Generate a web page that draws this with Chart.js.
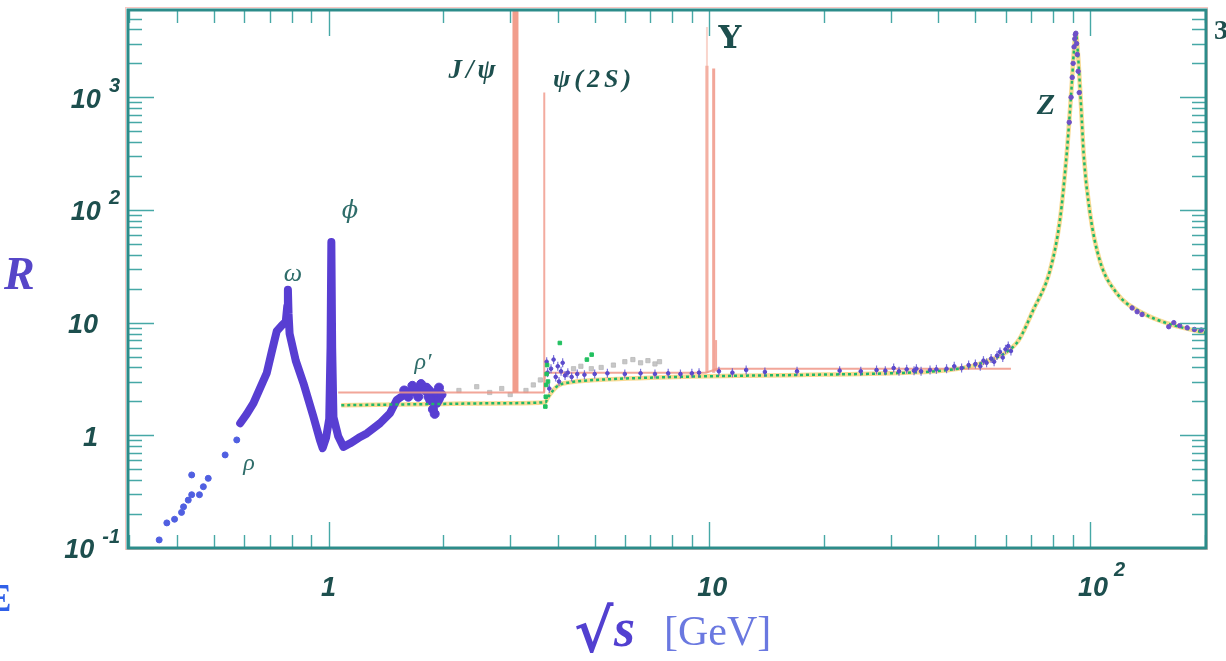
<!DOCTYPE html>
<html><head><meta charset="utf-8">
<script src="https://cdn.jsdelivr.net/npm/chart.js@4.4.0/dist/chart.umd.min.js"></script>
<style>html,body{margin:0;padding:0;background:#fff;overflow:hidden}#wrap{width:1226px;height:661px;position:relative}</style>
</head><body><div id="wrap"><canvas id="c" width="1226" height="661"></canvas></div>
<script>
// ---------------- data ----------------
// axis ranges
const X_MIN = 0.2973, X_MAX = 201.7, Y_MIN = 0.1, Y_MAX = 5950;
// tick labels
const X_TICKS = [1, 10, 100];
const X_TICK_BASE = ['1', '10', '10'];
const X_TICK_EXP = ['', '', '2'];
const Y_TICKS = [0.1, 1, 10, 100, 1000];
const Y_TICK_BASE = ['10', '1', '10', '10', '10'];
const Y_TICK_EXP = ['-1', '', '', '2', '3'];

// low energy sparse points (rho tail)
const lowSparseX = [0.359, 0.376, 0.394, 0.411, 0.416, 0.428, 0.437, 0.437, 0.458, 0.469, 0.483, 0.535, 0.574];
const lowSparseY = [0.118, 0.167, 0.180, 0.207, 0.232, 0.266, 0.297, 0.445, 0.297, 0.350, 0.415, 0.67, 0.91];
// dense low energy band (rho, omega, phi, rho')
const bandX = [0.586, 0.61, 0.635, 0.66, 0.688, 0.71, 0.731, 0.755, 0.772, 0.779, 0.782, 0.785, 0.79, 0.82, 0.859, 0.912, 0.949, 0.965, 0.985, 1.004, 1.012, 1.017, 1.022, 1.03, 1.06, 1.094, 1.14, 1.2, 1.26, 1.365, 1.45, 1.51, 1.6, 1.7, 1.81, 1.87, 1.925, 1.96];
const bandY = [1.28, 1.55, 1.93, 2.6, 3.56, 5.6, 8.4, 9.5, 10.2, 14, 19.6, 12, 8.0, 4.6, 2.9, 1.47, 0.91, 0.77, 0.95, 1.4, 6, 52, 6, 1.45, 0.98, 0.79, 0.85, 0.95, 1.04, 1.28, 1.57, 2.06, 2.36, 2.62, 2.7, 2.4, 1.9, 2.1];
// rho' blob extra points
const blobX = [1.58, 1.62, 1.66, 1.7, 1.72, 1.75, 1.8, 1.83, 1.85, 1.88, 1.9, 1.93, 1.95, 1.98];
const blobY = [2.5, 2.2, 2.75, 2.4, 2.2, 2.85, 2.5, 2.2, 2.05, 1.7, 1.55, 2.4, 2.65, 2.3];

// mid / high energy data points (with error bars)
const midX = [3.74, 3.76, 3.8, 3.84, 3.9, 3.95, 4.0, 4.03, 4.08, 4.12, 4.18, 4.25, 4.35, 4.5, 4.7, 5.0, 5.4, 6.0, 6.6, 7.2, 7.8, 8.4, 9.0, 9.4, 10.6, 11.5, 12.5, 14, 17, 22, 25, 27.5, 29, 30.5, 31.5, 33, 34.5, 35, 36, 38, 39.5, 42, 44, 46, 48, 50, 51.5, 52.5, 53.5, 55, 56, 57, 58, 59, 60, 61, 62];
const midY = [4.5, 3.6, 2.6, 3.9, 4.7, 3.3, 4.1, 3.0, 3.7, 4.4, 3.4, 3.6, 3.3, 3.5, 3.45, 3.5, 3.55, 3.5, 3.55, 3.5, 3.55, 3.5, 3.55, 3.6, 3.7, 3.6, 3.8, 3.65, 3.7, 3.75, 3.7, 3.8, 3.75, 3.95, 3.7, 3.85, 3.75, 3.9, 3.7, 3.8, 3.85, 3.9, 4.1, 3.95, 4.2, 4.3, 4.1, 4.6, 4.4, 4.8, 4.5, 5.1, 5.5, 4.9, 5.8, 6.2, 5.6];
// Z region data points
const zX = [88.2, 89.2, 89.8, 90.3, 90.8, 91.2, 91.5, 91.8, 92.2, 92.6, 93.1, 93.7, 129, 133, 137, 161, 166, 172, 180, 188, 196];
const zY = [600, 1000, 1500, 2000, 2800, 3300, 3600, 3700, 3000, 2400, 1700, 1100, 13.5, 12.5, 11.8, 9.2, 10.0, 9.4, 9.0, 8.7, 8.6];

// other experiments (grey)
const greyX = [2.2, 2.45, 2.65, 2.85, 3.0, 3.3, 3.45, 3.6, 4.4, 4.6, 4.9, 5.2, 5.6, 6.0, 6.3, 6.6, 6.9, 7.2, 7.4];
const greyY = [2.5, 2.7, 2.4, 2.6, 2.3, 2.5, 2.8, 3.1, 3.9, 4.1, 3.9, 4.0, 4.2, 4.5, 4.7, 4.4, 4.6, 4.3, 4.5];
// green points near charm threshold
const greenPtX = [3.71, 3.72, 3.73, 3.74, 3.75, 3.77, 4.05, 4.77, 4.91];
const greenPtY = [1.8, 2.2, 2.8, 3.5, 4.2, 3.0, 6.6, 4.7, 5.2];

// QCD prediction curve (green dotted / yellow)
const qcdX = [1.08, 2.0, 3.0, 3.72, 3.75, 3.85, 4.0, 4.3, 4.7, 5.5, 7, 9, 12, 16, 20, 25, 30, 35, 40, 45, 50, 55, 60, 65, 71, 78.5, 83.4, 86.9, 88.3, 89.5, 90.6, 91.8, 93.0, 94.1, 95.2, 96.2, 100, 106, 117.5, 138, 159, 195, 202];
const qcdY = [1.85, 1.9, 1.93, 1.97, 2.1, 2.4, 2.75, 2.95, 3.05, 3.15, 3.25, 3.32, 3.38, 3.42, 3.46, 3.5, 3.55, 3.62, 3.72, 3.9, 4.2, 4.7, 5.4, 7.0, 13, 29, 82, 320, 650, 1250, 2400, 3700, 2400, 1250, 620, 320, 94, 36, 18.3, 12.1, 9.9, 8.3, 8.1];

// naive quark model (red) and narrow resonances
const redX = [1.06, 3.09, 3.11, 3.68, 3.70, 9.8, 10.5, 62];
const redY = [2.4, 2.4, 2.4, 2.4, 3.6, 3.6, 3.9, 3.9];
const spikeX = [3.097, 3.686, 9.86, 9.86, 10.27, 10.42];
const spikeBase = [2.4, 2.4, 3.6, 3.6, 3.6, 3.7];
const spikeTop = [9000, 1100, 4200, 1900, 1800, 7];

// ---------------- chart ----------------
const pts = (xs, ys) => xs.map((x, i) => ({x: x, y: ys[i]}));
const spikeWidths = [6, 2, 2, 3, 3, 2];
const spikeColors = ['rgba(238,140,120,0.85)', 'rgba(240,150,135,0.8)', 'rgba(245,185,170,0.6)', 'rgba(240,150,135,0.85)', 'rgba(240,150,135,0.85)', 'rgba(240,150,135,0.8)'];
const spikeSets = spikeX.map((sx, i) => ({
  data: [{x: sx, y: spikeBase[i]}, {x: sx, y: spikeTop[i]}],
  showLine: true, pointRadius: 0, borderColor: spikeColors[i], borderWidth: spikeWidths[i], order: 20
}));

const PURPLE = 'rgb(88,62,210)';
const datasets = [
  {data: pts(greenPtX, greenPtY), pointRadius: 2.5, backgroundColor: '#22c060', borderColor: '#22c060', pointStyle: 'rect', order: 1},
  {data: pts(zX, zY), pointRadius: 2.2, backgroundColor: 'rgb(110,80,200)', borderColor: 'rgb(110,80,200)', order: 2},
  {data: pts(midX, midY), pointRadius: 4.5, pointStyle: 'line', rotation: 90, borderWidth: 1.2, borderColor: 'rgba(90,80,210,0.8)', order: 3},
  {data: pts(midX, midY), pointRadius: 1.8, backgroundColor: 'rgb(90,70,200)', borderColor: 'rgb(90,70,200)', order: 3},
  {data: pts(qcdX, qcdY), showLine: true, pointRadius: 0, borderColor: '#1fb86a', borderWidth: 2.5, borderDash: [3, 3], cubicInterpolationMode: 'monotone', order: 4},
  {data: pts(lowSparseX, lowSparseY), pointRadius: 3, backgroundColor: 'rgb(80,95,225)', borderColor: 'rgb(80,95,225)', order: 5},
  {data: pts(blobX, blobY), pointRadius: 4.5, backgroundColor: PURPLE, borderColor: PURPLE, order: 6},
  {data: pts(bandX, bandY), showLine: true, pointRadius: 0, borderColor: PURPLE, borderWidth: 8, borderJoinStyle: 'round', borderCapStyle: 'round', order: 7},
  {data: pts(redX, redY), showLine: true, pointRadius: 0, borderColor: 'rgba(240,150,135,0.85)', borderWidth: 2, order: 5.5},
  {data: pts(qcdX, qcdY), showLine: true, pointRadius: 0, borderColor: 'rgba(245,205,110,0.75)', borderWidth: 4.5, cubicInterpolationMode: 'monotone', order: 9},
  {data: pts(greyX, greyY), pointRadius: 3, pointStyle: 'rect', backgroundColor: 'rgba(185,185,185,0.8)', borderColor: 'rgba(185,185,185,0.8)', order: 10}
].concat(spikeSets);

const TEAL = '#2c8c8a', TEXT = '#1d4f4e';
const deco = {
  id: 'deco',
  beforeDraw(chart) {
    const c = chart.ctx; c.save(); c.fillStyle = '#fff'; c.fillRect(0, 0, chart.width, chart.height); c.restore();
  },
  afterDraw(chart) {
    const c = chart.ctx, a = chart.chartArea, sx = chart.scales.x, sy = chart.scales.y;
    c.save();
    // ticks on all four sides, inward
    c.strokeStyle = '#46a8a6'; c.lineWidth = 1.4;
    for (let k = -1; k <= 2; k++) for (let m = 1; m <= 9; m++) {
      const v = m * Math.pow(10, k); if (v < X_MIN || v > X_MAX) continue;
      const px = Math.round(sx.getPixelForValue(v)) + 0.5, len = m === 1 ? 26 : 13;
      c.beginPath(); c.moveTo(px, a.bottom); c.lineTo(px, a.bottom - len); c.moveTo(px, a.top); c.lineTo(px, a.top + len); c.stroke();
    }
    for (let k = -1; k <= 3; k++) for (let m = 1; m <= 9; m++) {
      const v = m * Math.pow(10, k); if (v < Y_MIN || v > Y_MAX) continue;
      const py = Math.round(sy.getPixelForValue(v)) + 0.5, len = m === 1 ? 26 : 14;
      c.beginPath(); c.moveTo(a.left, py); c.lineTo(a.left + len, py); c.moveTo(a.right, py); c.lineTo(a.right - len, py); c.stroke();
    }
    // frame
    c.strokeStyle = 'rgba(240,130,120,0.45)'; c.lineWidth = 1;
    c.strokeRect(a.left - 2.5, a.top - 2.5, a.right - a.left + 4, a.bottom - a.top + 4);
    c.strokeStyle = TEAL; c.lineWidth = 3;
    c.strokeRect(a.left, a.top, a.right - a.left, a.bottom - a.top);

    // y tick labels
    c.fillStyle = TEXT; c.textBaseline = 'middle';
    Y_TICKS.forEach((v, i) => {
      const py = sy.getPixelForValue(v);
      let baseRight = 98;
      if (Y_TICK_EXP[i]) {
        c.font = 'italic bold 20px "Liberation Sans"';
        const w = c.measureText(Y_TICK_EXP[i]).width;
        c.textAlign = 'left'; c.fillText(Y_TICK_EXP[i], 120 - w, py - 11);
        baseRight = 120 - w - 8;
      }
      c.font = 'italic bold 27px "Liberation Sans"'; c.textAlign = 'right';
      c.fillText(Y_TICK_BASE[i], baseRight, py + 3);
    });
    // x tick labels
    X_TICKS.forEach((v, i) => {
      const px = sx.getPixelForValue(v);
      c.font = 'italic bold 27px "Liberation Sans"'; c.textAlign = 'center';
      const off = X_TICK_BASE[i].length > 1 ? 3 : 0;
      c.fillText(X_TICK_BASE[i], px + off, 589);
      if (X_TICK_EXP[i]) {
        const w = c.measureText(X_TICK_BASE[i]).width;
        c.font = 'italic bold 20px "Liberation Sans"'; c.textAlign = 'left';
        c.fillText(X_TICK_EXP[i], px + off + w / 2 + 6, 570);
      }
    });

    // axis titles
    c.textBaseline = 'alphabetic'; c.textAlign = 'left';
    c.fillStyle = '#5646c8'; c.font = 'italic bold 46px "Liberation Serif"';
    c.fillText('R', 4, 289);
    c.fillStyle = '#5240d0'; c.font = 'bold 60px "DejaVu Serif"';
    c.fillText('\u221A', 574, 652);
    c.font = 'italic bold 54px "Liberation Serif"';
    c.fillText('s', 614, 646);
    c.fillStyle = '#6a78e0'; c.font = '42px "Liberation Serif"';
    c.fillText('[GeV]', 664, 645);

    // resonance labels
    c.fillStyle = TEXT; c.textAlign = 'center'; c.textBaseline = 'middle';
    c.letterSpacing = '4px';
    c.font = 'italic bold 27px "Liberation Serif"'; c.fillText('J/\u03C8', 474, 71);
    c.font = 'italic bold 26px "Liberation Serif"'; c.fillText('\u03C8(2S)', 594, 80);
    c.letterSpacing = '0px';
    c.font = 'bold 32px "DejaVu Serif"'; c.fillText('\u03A5', 730, 40);
    c.font = 'italic bold 30px "Liberation Serif"'; c.fillText('Z', 1046, 106);
    c.fillStyle = '#2f6d6a';
    c.font = 'italic 26px "Liberation Serif"'; c.fillText('\u03C9', 293, 274);
    c.font = 'italic 24px "DejaVu Serif"'; c.fillText('\u03D5', 350, 212);
    c.font = 'italic 24px "Liberation Serif"'; c.fillText('\u03C1\u2032', 423, 363);
    c.fillText('\u03C1', 249, 464);
    // cropped fragments at the picture edges
    c.fillStyle = '#1d4f4e'; c.font = 'bold 28px "Liberation Serif"'; c.textAlign = 'left';
    c.fillText('3', 1214, 32);
    c.fillStyle = '#3060e8'; c.font = '40px "Liberation Serif"';
    c.fillText('\u039E', -14, 600);
    c.restore();
  }
};

new Chart(document.getElementById('c'), {
  type: 'scatter',
  data: {datasets: datasets},
  options: {
    responsive: false, animation: false, events: [],
    layout: {padding: {left: 128, top: 10, right: 20, bottom: 113}},
    plugins: {legend: {display: false}, tooltip: {enabled: false}},
    scales: {
      x: {type: 'logarithmic', min: X_MIN, max: X_MAX, display: false},
      y: {type: 'logarithmic', min: Y_MIN, max: Y_MAX, display: false}
    }
  },
  plugins: [deco]
});
</script></body></html>
